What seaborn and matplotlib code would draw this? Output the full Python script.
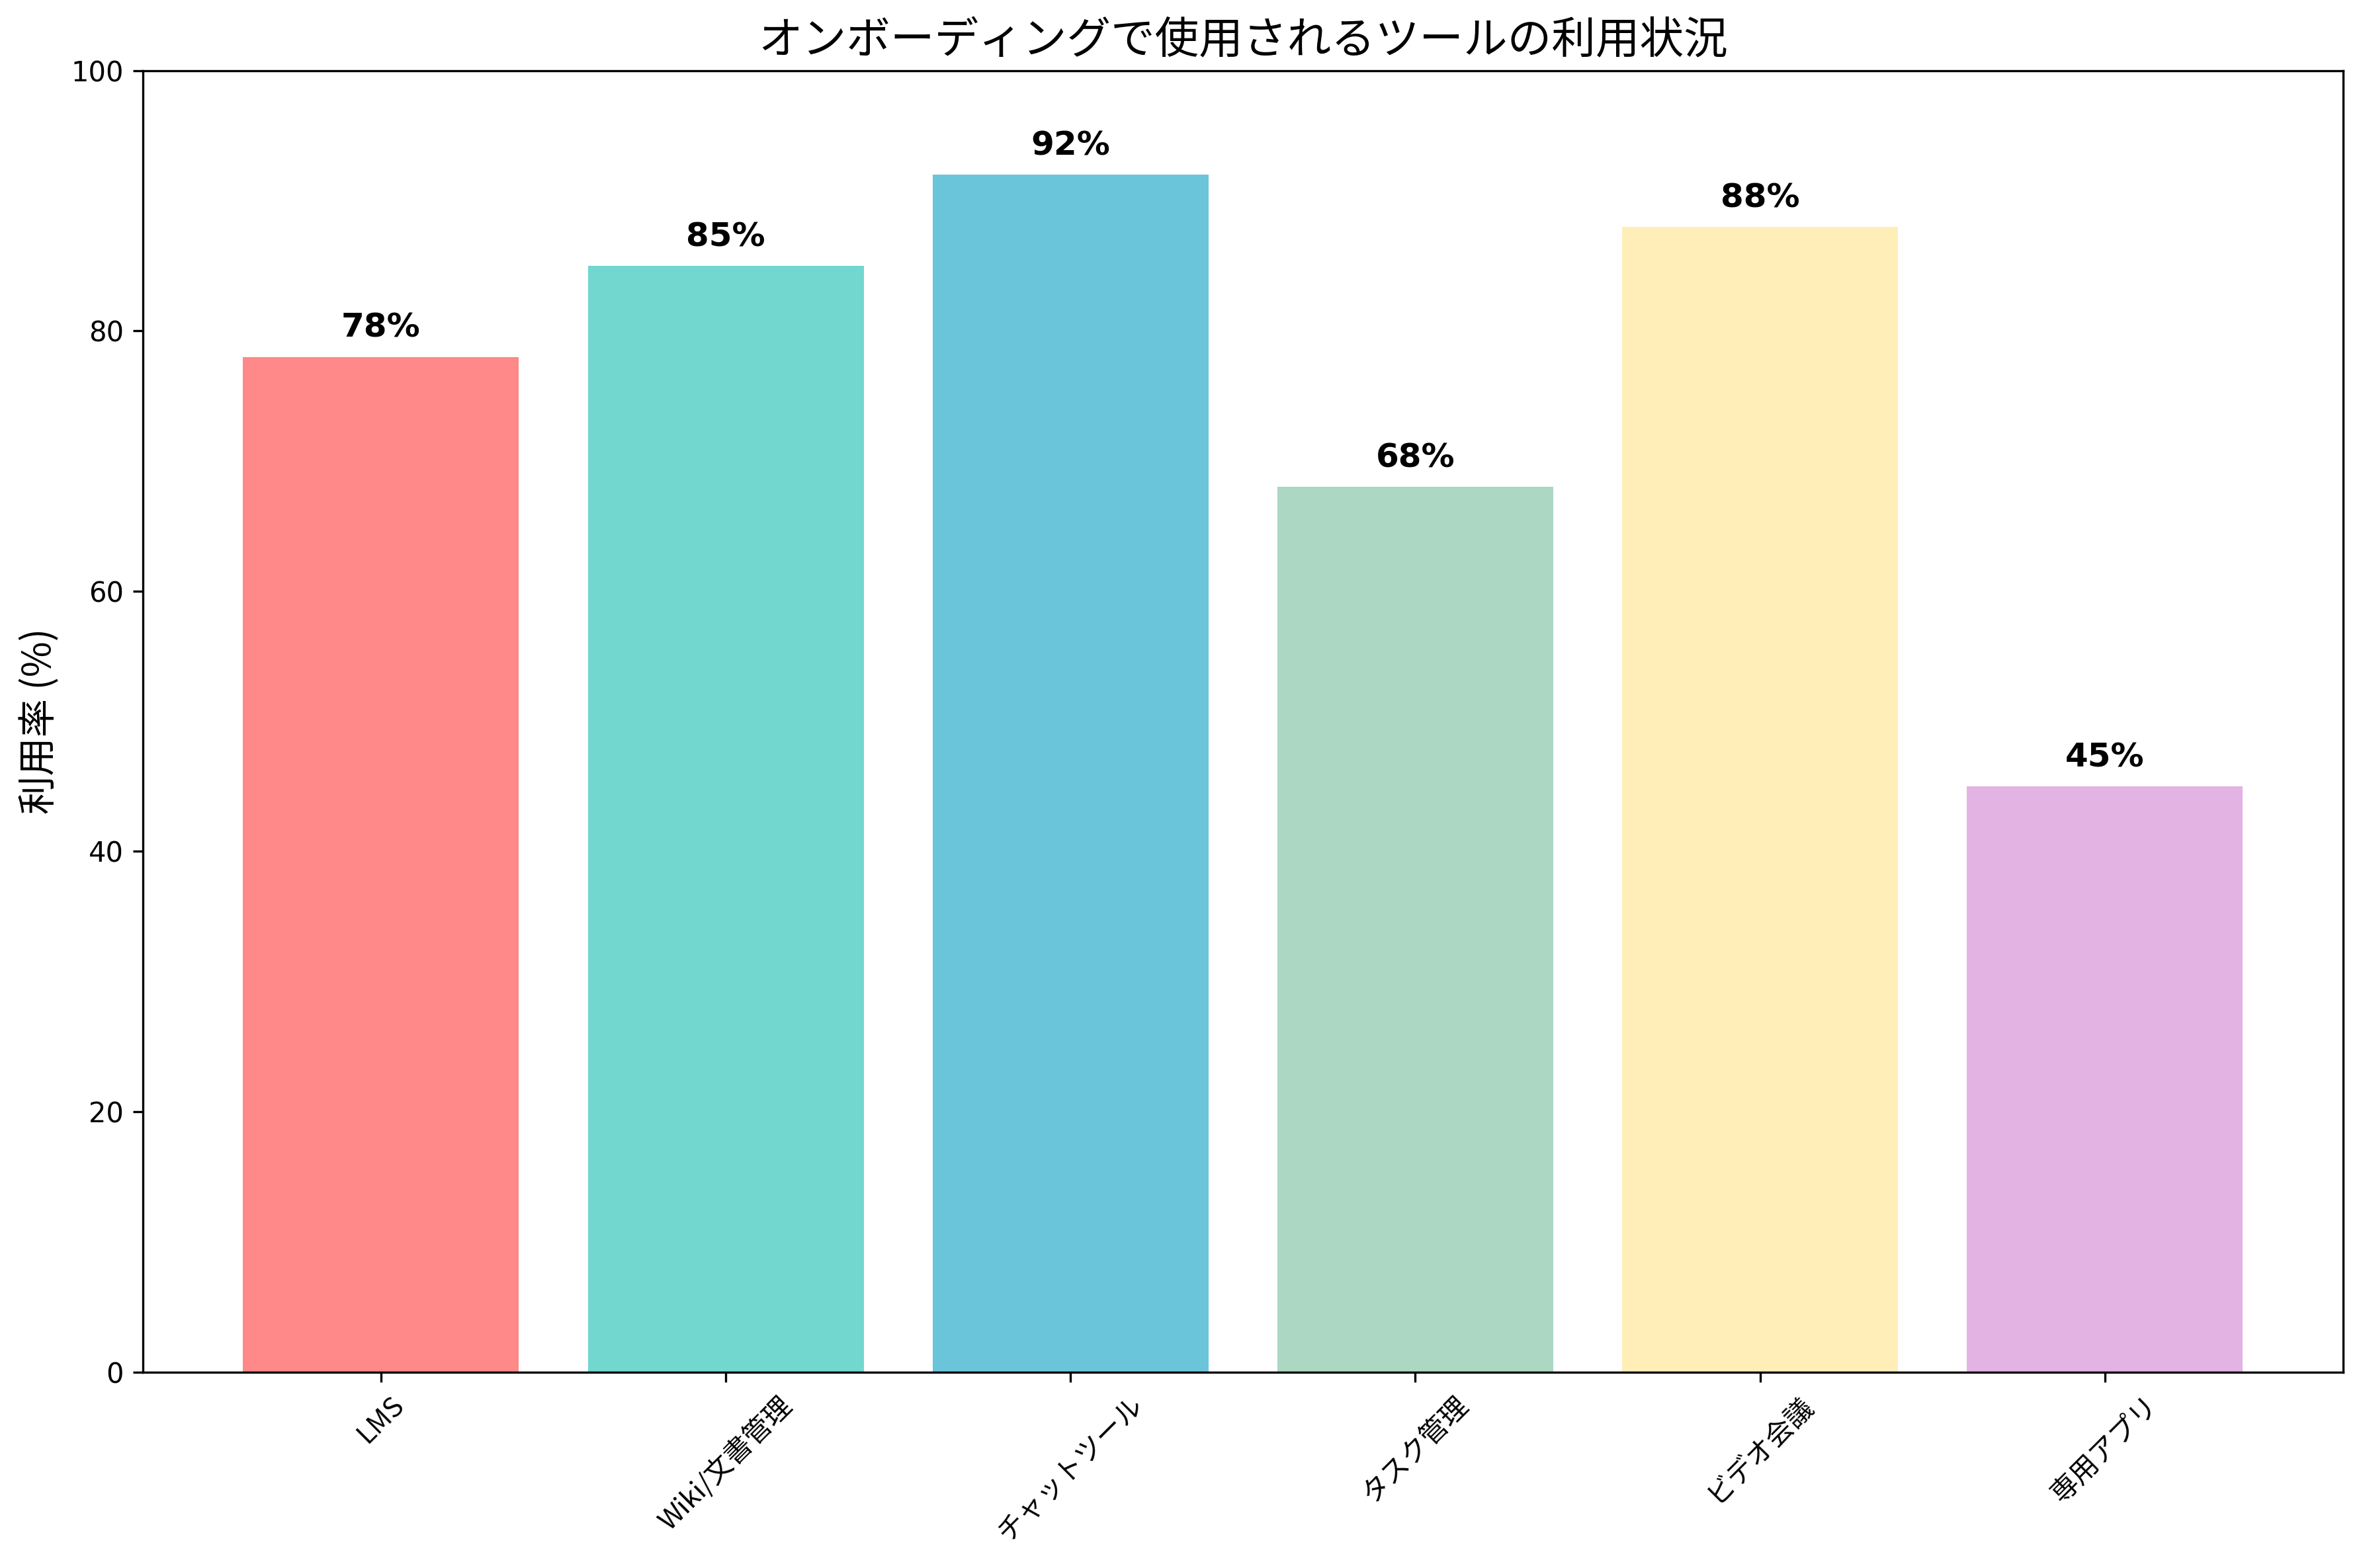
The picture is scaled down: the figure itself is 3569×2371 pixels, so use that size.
import matplotlib
matplotlib.use("Agg")
import matplotlib.pyplot as plt
import seaborn as sns
import pandas as pd

categories = ["LMS", "Wiki/文書管理", "チャットツール", "タスク管理", "ビデオ会議", "専用アプリ"]
values = [78, 85, 92, 68, 88, 45]
colors = ["#FF6B6B", "#4ECDC4", "#45B7D1", "#96CEB4", "#FFEAA7", "#DDA0DD"]

plt.rcdefaults()
plt.rcParams['font.family'] = ['DejaVu Sans', 'Noto Sans CJK JP']
cjk = ['Noto Sans CJK JP', 'DejaVu Sans']

df = pd.DataFrame({"cat": categories, "val": values})
fig = plt.figure(figsize=(3569/300, 2371/300), dpi=300)
ax = fig.add_axes([0.0606, 0.125, 0.9317, 0.830])
sns.barplot(data=df, x="cat", y="val", hue="cat", palette=colors, alpha=0.8,
            width=0.8, legend=False, ax=ax, saturation=1)
for i, v in enumerate(values):
    ax.text(i, v + 1, f"{v}%", ha="center", va="bottom", fontsize=12,
            fontweight="bold", color="black")
ax.set_ylim(0, 100)
ax.set_xlim(-0.69, 5.69)
ax.set_title("オンボーディングで使用されるツールの利用状況", fontsize=16, family=cjk)
ax.set_ylabel("利用率 (%)", fontsize=14, family=cjk)
ax.set_xlabel("")
plt.setp(ax.get_xticklabels(), rotation=45, family=cjk, fontsize=10)
fig.savefig("out.png", dpi=300)
